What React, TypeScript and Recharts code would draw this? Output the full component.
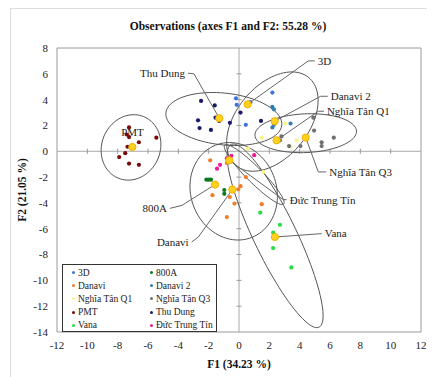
import React from "react";
import { ScatterChart, Scatter, XAxis, YAxis, ReferenceLine, ReferenceArea, Legend, Customized } from "recharts";

const FONT = "'Liberation Serif', 'Times New Roman', serif";

const xTicks = [-12, -10, -8, -6, -4, -2, 0, 2, 4, 6, 8, 10, 12];
const yTicks = [-14, -12, -10, -8, -6, -4, -2, 0, 2, 4, 6, 8];
const axisMarksX = [-10, -8, -6, -4, -2, 2, 4, 6, 8, 10];
const axisMarksY = [-12, -10, -8, -6, -4, -2, 2, 4, 6];

const groupNames = ["3D", "800A", "Danavi", "Danavi 2", "Nghĩa Tân Q1", "Nghĩa Tân Q3", "PMT", "Thu Dung", "Vana", "Đức Trung Tín"];
const groupColors = ["#3f72e0", "#0a7a1e", "#f07d2a", "#2f7fb5", "#f8f58a", "#707070", "#780a0a", "#1a1a6b", "#25dd45", "#ee1a9c"];

const pts3D = [{ x: -0.2, y: 4.1 }, { x: -0.15, y: 3.6 }, { x: 0.75, y: 3.8 }, { x: 2.2, y: 4.55 }, { x: 0.45, y: 2.05 }];
const pts800A = [{ x: -2.15, y: -2.2 }, { x: -2.0, y: -2.2 }, { x: -1.85, y: -2.2 }, { x: -0.97, y: -3.0 }, { x: -0.97, y: -3.3 }];
const ptsDanavi = [
  { x: -1.9, y: -0.7 }, { x: -0.8, y: -0.9 }, { x: 0.45, y: -2.0 }, { x: 0.1, y: -2.7 }, { x: -0.05, y: -2.95 },
  { x: -1.75, y: -3.4 }, { x: -0.6, y: -3.55 }, { x: -0.3, y: -4.05 }, { x: 1.5, y: -4.1 }, { x: -0.8, y: -5.1 },
];
const ptsDanavi2 = [{ x: 2.2, y: 3.45 }, { x: 2.3, y: 3.25 }, { x: 2.3, y: 2.05 }, { x: 2.2, y: 1.85 }, { x: 3.4, y: 2.15 }];
const ptsQ1 = [{ x: 1.5, y: 1.05 }, { x: 3.05, y: 2.15 }, { x: 3.4, y: 0.35 }, { x: 3.8, y: 0.85 }, { x: 0.6, y: 0.2 }, { x: 1.6, y: -1.6 }];
const ptsQ3 = [
  { x: 4.9, y: 2.6 }, { x: 4.95, y: 1.6 }, { x: 2.8, y: 1.15 }, { x: 2.7, y: 0.85 }, { x: 3.3, y: 0.4 },
  { x: 4.05, y: 0.4 }, { x: 5.45, y: 0.7 }, { x: 5.45, y: 0.4 }, { x: 6.25, y: 1.05 },
];
const ptsPMT = [
  { x: -7.25, y: 1.85 }, { x: -7.4, y: 1.3 }, { x: -7.25, y: 1.1 }, { x: -6.6, y: 0.7 }, { x: -5.45, y: 1.05 },
  { x: -7.35, y: 0.35 }, { x: -7.5, y: -0.15 }, { x: -7.9, y: -0.45 }, { x: -7.25, y: -0.95 }, { x: -6.6, y: -1.05 },
];
const ptsThuDung = [
  { x: -2.5, y: 3.9 }, { x: -1.6, y: 3.55 }, { x: -2.7, y: 2.4 }, { x: -2.6, y: 1.8 }, { x: -1.85, y: 1.65 },
  { x: -1.55, y: 2.6 }, { x: -1.3, y: 2.35 }, { x: -0.6, y: 2.2 }, { x: 0.1, y: 3.0 }, { x: 1.45, y: 2.35 },
];
const ptsVana = [{ x: 1.4, y: -4.75 }, { x: 2.7, y: -5.7 }, { x: 2.25, y: -6.3 }, { x: 2.25, y: -7.5 }, { x: 3.45, y: -9.0 }];
const ptsDTT = [{ x: -0.8, y: -0.55 }, { x: -0.5, y: -0.35 }, { x: -1.25, y: -1.05 }, { x: -1.45, y: -1.35 }, { x: 1.0, y: -0.3 }];

const groupPoints = [pts3D, pts800A, ptsDanavi, ptsDanavi2, ptsQ1, ptsQ3, ptsPMT, ptsThuDung, ptsVana, ptsDTT];

// group centroids (yellow dots)
const centroids = [
  { x: 0.57, y: 3.64 }, { x: -1.58, y: -2.58 }, { x: -0.44, y: -2.97 }, { x: 2.35, y: 2.33 }, { x: 2.48, y: 0.85 },
  { x: 4.4, y: 1.06 }, { x: -7.03, y: 0.33 }, { x: -1.3, y: 2.56 }, { x: 2.37, y: -6.64 }, { x: -0.64, y: -0.7 },
];

// confidence ellipses: centre, semi-axes, rotation (deg) in data units
const ellipses = [
  { cx: -7.12, cy: 0.3, a: 2.55, b: 1.95, angle: 80 },
  { cx: -1.0, cy: 2.5, a: 3.85, b: 2.0, angle: -8 },
  { cx: 2.2, cy: 2.3, a: 4.2, b: 2.5, angle: 60 },
  { cx: 4.4, cy: 1.4, a: 3.35, b: 1.5, angle: 3 },
  { cx: -0.35, cy: -3.1, a: 3.8, b: 2.85, angle: 100 },
  { cx: 2.38, cy: -6.55, a: 7.65, b: 1.45, angle: -68 },
  { cx: 1.0, cy: -1.8, a: 3.0, b: 0.55, angle: -50 },
];

// callout labels: text, anchor, leader path ending at the centroid
const callouts = [
  { text: "Thu Dung", anchor: "end", path: [{ x: -3.36, y: 6.05 }, { x: -2.97, y: 6.0 }, { x: -1.3, y: 2.56 }] },
  { text: "3D", anchor: "start", path: [{ x: 5.0, y: 7.0 }, { x: 4.57, y: 7.0 }, { x: 0.57, y: 3.64 }] },
  { text: "Danavi 2", anchor: "start", path: [{ x: 5.85, y: 4.26 }, { x: 5.38, y: 4.26 }, { x: 2.35, y: 2.33 }] },
  { text: "Nghĩa Tân Q1", anchor: "start", path: [{ x: 5.6, y: 3.1 }, { x: 5.23, y: 3.1 }, { x: 2.48, y: 0.85 }] },
  { text: "Nghĩa Tân Q3", anchor: "start", path: [{ x: 5.75, y: -1.6 }, { x: 5.23, y: -1.6 }, { x: 4.4, y: 1.06 }] },
  { text: "Đức Trung Tín", anchor: "start", path: [{ x: 3.15, y: -3.75 }, { x: 2.92, y: -3.75 }, { x: -0.64, y: -0.7 }] },
  { text: "Vana", anchor: "start", path: [{ x: 5.45, y: -6.38 }, { x: 2.37, y: -6.64 }] },
  { text: "800A", anchor: "end", path: [{ x: -4.55, y: -4.42 }, { x: -3.76, y: -4.19 }, { x: -1.58, y: -2.58 }] },
  { text: "Danavi", anchor: "end", path: [{ x: -3.12, y: -7.03 }, { x: -2.68, y: -6.64 }, { x: -0.44, y: -2.97 }] },
  { text: "PMT", anchor: "middle", path: [{ x: -7.02, y: 1.45 }] },
];

const ellipseOutline = (e: { cx: number; cy: number; a: number; b: number; angle: number }) => {
  const r = (e.angle * Math.PI) / 180;
  return Array.from({ length: 97 }, (_, i) => {
    const t = (i / 96) * 2 * Math.PI;
    return {
      x: e.cx + e.a * Math.cos(t) * Math.cos(r) - e.b * Math.sin(t) * Math.sin(r),
      y: e.cy + e.a * Math.cos(t) * Math.sin(r) + e.b * Math.sin(t) * Math.cos(r),
    };
  });
};

const Empty = () => <g />;

const makeDot = (color: string) => (p: any) => <circle cx={p.cx} cy={p.cy} r={2.1} fill={color} />;

const CentroidDot = (p: any) => <circle cx={p.cx} cy={p.cy} r={3.6} fill="#ffd21f" stroke="#f2b000" strokeWidth={1} />;

const HTick = (p: any) => <line x1={p.cx} x2={p.cx} y1={p.cy - 2.5} y2={p.cy + 2.5} stroke="#999" />;
const VTick = (p: any) => <line x1={p.cx - 2.5} x2={p.cx + 2.5} y1={p.cy} y2={p.cy} stroke="#999" />;

const CalloutText = (p: any) => {
  const label = p.payload && p.payload.label;
  if (!label) return <g />;
  const dx = p.payload.anchor === "end" ? -3 : p.payload.anchor === "start" ? 3 : 0;
  return (
    <text x={p.cx + dx} y={p.cy} dy="0.35em" textAnchor={p.payload.anchor} fontFamily={FONT} fontSize={11} fill="#222">
      {label}
    </text>
  );
};

const ChartTitle = () => (
  <text x={217} y={21} textAnchor="middle" fontFamily={FONT} fontSize={11.5} fontWeight="bold" fill="#111">
    Observations (axes F1 and F2: 55.28 %)
  </text>
);

const LegendBox = () => (
  <div
    style={{
      width: 155,
      height: 68,
      boxSizing: "border-box",
      border: "1.5px solid #333",
      background: "#fff",
      display: "grid",
      gridTemplateColumns: "78px 76px",
      gridAutoRows: "13.2px",
      paddingTop: 1,
      fontFamily: FONT,
      fontSize: 9.5,
      color: "#222",
    }}
  >
    {groupNames.map((name, i) => (
      <div key={name} style={{ display: "flex", alignItems: "center", whiteSpace: "nowrap", paddingLeft: 9 }}>
        <span style={{ width: 3, height: 3, borderRadius: 2, background: groupColors[i], marginRight: 3 }} />
        {name}
      </div>
    ))}
  </div>
);

export default function App() {
  return (
    <div style={{ marginLeft: 2, borderLeft: "1px solid #dcdcdc", borderTop: "1px solid #dcdcdc", width: 425, height: 369 }}>
      <ScatterChart width={424} height={368} margin={{ top: 39, right: 14, bottom: 0, left: 10 }}>
        <XAxis
          type="number"
          dataKey="x"
          domain={[-12, 12]}
          ticks={xTicks}
          allowDataOverflow
          tickLine={false}
          axisLine={false}
          tickMargin={3}
          height={45}
          tick={{ fill: "#222", fontSize: 11, fontFamily: FONT }}
          label={{ value: "F1 (34.23 %)", position: "insideBottom", offset: 9, fill: "#111", fontSize: 11.5, fontWeight: "bold", fontFamily: FONT }}
        />
        <YAxis
          type="number"
          dataKey="y"
          domain={[-14, 8]}
          ticks={yTicks}
          allowDataOverflow
          tickLine={false}
          axisLine={false}
          tickMargin={3}
          width={36}
          tick={{ fill: "#222", fontSize: 11, fontFamily: FONT }}
          label={{ value: "F2 (21.05 %)", angle: -90, position: "insideLeft", offset: 1, fill: "#111", fontSize: 11.5, fontWeight: "bold", fontFamily: FONT, style: { textAnchor: "middle" } }}
        />
        <Customized component={<ChartTitle />} />
        <ReferenceArea x1={-12} x2={12} y1={-14} y2={8} fill="none" stroke="#9a9a9a" />
        <ReferenceLine x={0} stroke="#a8a8a8" />
        <ReferenceLine y={0} stroke="#a8a8a8" />
        <Scatter data={axisMarksX.map((v) => ({ x: v, y: 0 }))} shape={HTick} isAnimationActive={false} legendType="none" />
        <Scatter data={axisMarksY.map((v) => ({ x: 0, y: v }))} shape={VTick} isAnimationActive={false} legendType="none" />
        {ellipses.map((e, i) => (
          <Scatter
            key={`ell-${i}`}
            data={ellipseOutline(e)}
            line={{ stroke: "#555", strokeWidth: 1 }}
            shape={Empty}
            isAnimationActive={false}
            legendType="none"
          />
        ))}
        {callouts.map((c) => (
          <Scatter
            key={`call-${c.text}`}
            data={c.path.map((pt, j) => (j === 0 ? { ...pt, label: c.text, anchor: c.anchor } : pt))}
            line={c.path.length > 1 ? { stroke: "#666", strokeWidth: 1 } : false}
            shape={CalloutText}
            isAnimationActive={false}
            legendType="none"
          />
        ))}
        {groupPoints.map((pts, i) => (
          <Scatter key={groupNames[i]} name={groupNames[i]} data={pts} fill={groupColors[i]} shape={makeDot(groupColors[i])} isAnimationActive={false} />
        ))}
        <Scatter data={centroids} shape={CentroidDot} isAnimationActive={false} legendType="none" />
        <Legend
          layout="vertical"
          align="center"
          verticalAlign="middle"
          content={() => <LegendBox />}
          wrapperStyle={{ left: 51, top: 255, width: 155, height: 68 }}
        />
      </ScatterChart>
    </div>
  );
}
